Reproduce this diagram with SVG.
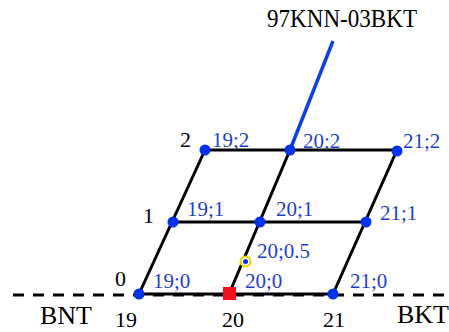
<svg xmlns="http://www.w3.org/2000/svg" width="449" height="332" viewBox="0 0 449 332">
<style>
text{font-family:'Liberation Serif','Times New Roman',Times,serif}
.grid{stroke:#000;stroke-width:3;fill:none}
.dash{stroke:#000;stroke-width:3;stroke-dasharray:11 9;fill:none}
.lbl{font-size:21px;fill:#1f3fc8}
.blk{font-size:22px;fill:#000}
.big{font-size:25px;fill:#000}
.dot{fill:#0033ee}
</style>
<rect width="449" height="332" fill="#fff"/>
<g id="connectors">
<line class="dash" x1="13" y1="295" x2="449" y2="295"/>
<line class="grid" x1="139" y1="294" x2="333" y2="294"/>
<line class="grid" x1="173" y1="222" x2="366" y2="222"/>
<line class="grid" x1="205" y1="150" x2="397" y2="150"/>
<line class="grid" x1="139" y1="294" x2="205" y2="150"/>
<line class="grid" x1="229" y1="294" x2="290" y2="150"/>
<line class="grid" x1="333" y1="294" x2="397" y2="150"/>
<line x1="290" y1="150" x2="333" y2="41" stroke="#1040e0" stroke-width="3.5"/>
</g>
<g id="title"><text class="big" x="267" y="27" textLength="150" lengthAdjust="spacingAndGlyphs">97KNN-03BKT</text></g>
<g id="n19_2"><circle class="dot" cx="205" cy="150" r="5.5"/><text class="lbl" x="212" y="147">19;2</text></g>
<g id="n20_2"><circle class="dot" cx="290" cy="150" r="5.5"/><text class="lbl" x="303" y="148">20;2</text></g>
<g id="n21_2"><circle class="dot" cx="397" cy="151" r="5.5"/><text class="lbl" x="403" y="148">21;2</text></g>
<g id="n19_1"><circle class="dot" cx="173" cy="222" r="5.5"/><text class="lbl" x="187" y="216">19;1</text></g>
<g id="n20_1"><circle class="dot" cx="260" cy="222" r="5.5"/><text class="lbl" x="276" y="216">20;1</text></g>
<g id="n21_1"><circle class="dot" cx="366" cy="222" r="5.5"/><text class="lbl" x="380" y="220">21;1</text></g>
<g id="n19_0"><circle class="dot" cx="139" cy="294" r="5.5"/><text class="lbl" x="153" y="288">19;0</text></g>
<g id="n20_0"><rect x="223" y="287" width="13" height="13" fill="#ee1122"/><text class="lbl" x="245" y="288">20;0</text></g>
<g id="n21_0"><circle class="dot" cx="333" cy="294" r="5.5"/><text class="lbl" x="350" y="288">21;0</text></g>
<g id="n20_05"><circle cx="245.5" cy="261.5" r="5" fill="#fff" stroke="#f0d000" stroke-width="2.2"/><circle class="dot" cx="245.5" cy="261.5" r="2.5"/><text class="lbl" x="257" y="258">20;0.5</text></g>
<g id="axis">
<text class="blk" x="180" y="147">2</text>
<text class="blk" x="143" y="223">1</text>
<text class="blk" x="115" y="286">0</text>
<text class="blk" x="115" y="327">19</text>
<text class="blk" x="222" y="327">20</text>
<text class="blk" x="323" y="327">21</text>
<text class="big" x="40" y="324" style="font-size:26px">BNT</text>
<text class="big" x="397" y="323" style="font-size:26px">BKT</text>
</g>
</svg>
